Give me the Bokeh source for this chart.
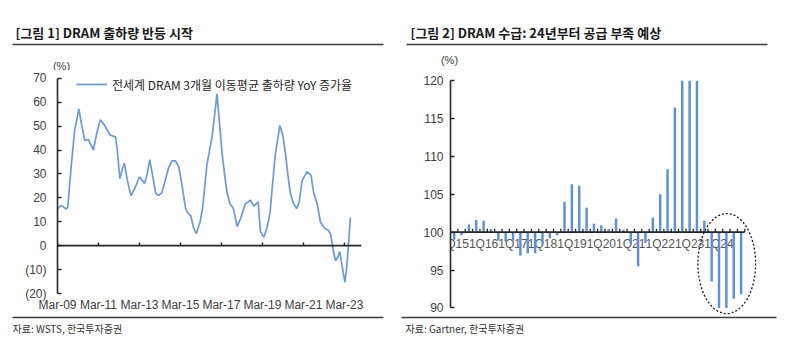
from bokeh.plotting import figure
from bokeh.models import Range1d, FixedTicker, Span, Legend, LegendItem
from bokeh.layouts import row, column
from bokeh.embed import file_html
from bokeh.resources import INLINE
from bokeh.core.properties import value

# ---------------- data: figure 1 (monthly index, 0 = Mar-09) ----------------
months_since_mar09 = [0, 2, 3, 5, 6, 8, 10, 12.5, 14, 16, 18, 19, 21, 23, 25, 27, 29, 31, 34, 35,
                      36.5, 38, 39.2, 41, 43, 45, 48, 50, 51, 52.5, 54, 55.5, 57.5, 59, 61, 63, 65,
                      67, 69, 71, 73, 75, 76.5, 78, 79.5, 81.3, 83.5, 85, 87.5, 90.5, 93.4, 95,
                      96.4, 98, 99.3, 101, 103, 105.2, 107, 110, 113, 115, 117.5, 118.8, 120.8,
                      122.7, 124.5, 125.7, 127.5, 130.2, 132, 133.5, 135, 136.4, 138, 140, 141.5,
                      143.2, 146.1, 148.5, 150, 152, 154, 156.5, 158.8, 160, 161.5, 162.8, 164,
                      165.3, 166.5, 168.3, 169.5, 171.5]
shipment_yoy = [15.4, 16.8, 16.5, 15.3, 16.0, 33.0, 48.0, 57.2, 51.0, 44.0, 44.5, 43.0, 40.0, 47.0,
                52.6, 51.0, 48.5, 46.2, 45.5, 40.0, 28.0, 32.0, 34.5, 27.0, 21.0, 23.5, 28.8, 27.0,
                26.0, 30.0, 36.0, 30.0, 22.0, 21.0, 22.0, 27.0, 32.5, 35.5, 35.5, 33.0, 25.0, 15.5,
                13.5, 12.6, 8.0, 5.0, 10.0, 16.0, 34.0, 45.4, 63.5, 50.0, 38.4, 29.0, 22.0, 17.5,
                15.5, 8.0, 11.0, 17.5, 19.0, 16.5, 18.3, 6.0, 3.5, 7.7, 14.0, 24.0, 38.0, 50.3,
                46.0, 38.4, 29.0, 21.7, 18.0, 15.5, 18.0, 27.2, 31.0, 29.3, 22.0, 17.5, 9.8, 7.3,
                6.3, 4.5, -2.0, -6.3, -5.0, -2.4, -8.0, -15.3, -8.0, 11.8]
x1_tick_months = [0, 24, 48, 72, 96, 120, 144, 168]
x1_tick_labels = ["Mar-09", "Mar-11", "Mar-13", "Mar-15", "Mar-17", "Mar-19", "Mar-21", "Mar-23"]
y1_ticks = [-20, -10, 0, 10, 20, 30, 40, 50, 60, 70]
y1_tick_labels = ["(20)", "(10)", "0", "10", "20", "30", "40", "50", "60", "70"]
series1_name = "전세계 DRAM 3개월 이동평균 출하량 YoY 증가율"

# ---------------- data: figure 2 (quarterly supply/demand, base 100) ----------------
quarters = ["1Q15", "2Q15", "3Q15", "4Q15", "1Q16", "2Q16", "3Q16", "4Q16",
            "1Q17", "2Q17", "3Q17", "4Q17", "1Q18", "2Q18", "3Q18", "4Q18",
            "1Q19", "2Q19", "3Q19", "4Q19", "1Q20", "2Q20", "3Q20", "4Q20",
            "1Q21", "2Q21", "3Q21", "4Q21", "1Q22", "2Q22", "3Q22", "4Q22",
            "1Q23", "2Q23", "3Q23", "4Q23", "1Q24", "2Q24", "3Q24", "4Q24"]
supply_demand = [99.0, 99.6, 101.0, 101.6, 101.5, 100.4, 98.9, 98.8,
                 98.9, 96.9, 97.2, 97.2, 98.4, 99.2, 99.6, 104.0,
                 106.3, 106.1, 103.2, 101.1, 100.9, 100.4, 101.8, 100.3,
                 98.4, 95.5, 98.6, 101.9, 105.0, 108.3, 116.4, 124.0,
                 126.0, 123.0, 101.5, 93.5, 90.0, 90.0, 91.2, 91.8]
y2_ticks = [90, 95, 100, 105, 110, 115, 120]

# ---------------- styles ----------------
KR = "Noto Sans CJK KR"
LAT = "Liberation Sans"
LINE_BLUE = "#6a9bd8"
BAR_BLUE = "#5b8fd6"
AXIS_C = "#262626"
TXT_C = "#404040"
RULE_C = "#3a3a3a"


def no_align(f):
    try:
        f.frame_align = False
    except Exception:
        pass
    return f


def blank_fig(w, h):
    f = figure(width=w, height=h, x_range=Range1d(0, w), y_range=Range1d(h, 0),
               x_axis_type=None, y_axis_type=None, min_border=0,
               output_backend="svg", toolbar_location=None)
    f.outline_line_color = None
    f.grid.visible = False
    return no_align(f)


def header(w, title, title_x, rule_x0, rule_x1, pct_x, pct_y):
    f = blank_fig(w, 70)
    f.text(x=[title_x], y=[32], text=[title], text_font=value(KR), text_font_size="13px",
           text_font_style="bold", text_color="#1a1a1a", text_baseline="middle", text_align="left")
    f.segment(x0=[rule_x0], y0=[44], x1=[rule_x1], y1=[44], line_color=RULE_C, line_width=1.6)
    f.text(x=[pct_x], y=[pct_y], text=["(%)"], text_font=value(LAT), text_font_size="11px",
           text_color=TXT_C, text_baseline="middle", text_align="center")
    return f


def footer(w, source, rule_x0, rule_x1, src_x):
    f = blank_fig(w, 36)
    f.segment(x0=[rule_x0], y0=[2], x1=[rule_x1], y1=[2], line_color=RULE_C, line_width=1.6)
    f.text(x=[src_x], y=[13], text=[source], text_font=value(KR), text_font_size="10px",
           text_color="#333333", text_baseline="middle", text_align="left")
    return f


def style_yaxis(p, ticks, overrides=None, standoff=10):
    ax = p.yaxis[0]
    ax.ticker = FixedTicker(ticks=ticks)
    if overrides:
        ax.major_label_overrides = overrides
    ax.axis_line_color = AXIS_C
    ax.axis_line_width = 1.6
    ax.major_tick_line_color = AXIS_C
    ax.major_tick_line_width = 1.4
    ax.major_tick_in = 4
    ax.major_tick_out = 0
    ax.minor_tick_line_color = None
    ax.major_label_standoff = standoff
    ax.major_label_text_font = LAT
    ax.major_label_text_font_size = "12px"
    ax.major_label_text_color = TXT_C


# ---------------- chart 1 ----------------
# y range extends a little above 70 so the legend sits fully inside the frame;
# the axis line itself is bounded to -20..70
p1 = figure(width=400, height=245, x_range=Range1d(0, 178), y_range=Range1d(-20, 72),
            output_backend="svg", toolbar_location=None,
            min_border_left=57, min_border_right=39, min_border_top=3, min_border_bottom=22)
no_align(p1)
p1.outline_line_color = None
p1.grid.visible = False
style_yaxis(p1, y1_ticks, {t: l for t, l in zip(y1_ticks, y1_tick_labels)}, standoff=11)
p1.yaxis[0].bounds = (y1_ticks[0], y1_ticks[-1])
xa = p1.xaxis[0]
xa.ticker = FixedTicker(ticks=x1_tick_months)
xa.major_label_overrides = {t: l for t, l in zip(x1_tick_months, x1_tick_labels)}
xa.axis_line_color = None
xa.major_tick_line_color = None
xa.major_tick_in = 0
xa.major_tick_out = 0
xa.minor_tick_line_color = None
xa.minor_tick_in = 0
xa.minor_tick_out = 0
xa.major_label_standoff = 4
xa.major_label_text_font = LAT
xa.major_label_text_font_size = "12px"
xa.major_label_text_color = TXT_C

p1.add_layout(Span(location=0, dimension="width", line_color=AXIS_C, line_width=1.6))
p1.segment(x0=x1_tick_months, y0=[0] * len(x1_tick_months), x1=x1_tick_months,
           y1=[1.3] * len(x1_tick_months), line_color=AXIS_C, line_width=1.4)
r1 = p1.line(months_since_mar09, shipment_yoy, line_color=LINE_BLUE, line_width=1.7)
leg = Legend(items=[LegendItem(label=series1_name, renderers=[r1])], location=(19, 200),
             padding=0, margin=0, border_line_color=None, background_fill_alpha=0,
             glyph_width=31, glyph_height=18, label_height=18, label_width=255,
             label_standoff=5, label_text_font=KR, label_text_font_size="12px",
             label_text_color="#1f1f1f", label_text_baseline="middle")
p1.add_layout(leg)

# ---------------- chart 2 ----------------
n_q = len(quarters)
xq = list(range(n_q))
p2 = figure(width=399, height=245, x_range=Range1d(-0.5, n_q + 1.5), y_range=Range1d(89, 120),
            x_axis_type=None, output_backend="svg", toolbar_location=None,
            min_border_left=50, min_border_right=40, min_border_top=10, min_border_bottom=0)
no_align(p2)
p2.outline_line_color = None
p2.grid.visible = False
style_yaxis(p2, y2_ticks, standoff=7)
p2.yaxis[0].bounds = (90, 120)

label_idx = [i for i, q in enumerate(quarters) if q.startswith("1Q")]
p2.text(x=label_idx, y=[100] * len(label_idx), text=[quarters[i] for i in label_idx],
        text_font=value(LAT), text_font_size="12px", text_color="#555555",
        text_align="center", text_baseline="top", y_offset=5)
p2.vbar(x=xq, bottom=100, top=supply_demand, width=0.33, fill_color=BAR_BLUE, line_color=None)
bounds = [i - 0.5 for i in range(n_q + 1)]
p2.segment(x0=[-0.5], y0=[100], x1=[n_q - 0.5], y1=[100], line_color=AXIS_C, line_width=1.6)
p2.segment(x0=bounds, y0=[100] * len(bounds), x1=bounds, y1=[100.45] * len(bounds),
           line_color=AXIS_C, line_width=1.3)
# dashed ellipse highlighting the 2024 shortage
p2.ellipse(x=[37.05], y=[95.85], width=[7.85], height=[13.2], fill_color=None,
           line_color="#1a1a1a", line_dash="2 2", line_width=1.3)

# ---------------- layout ----------------
left = column(header(400, "[그림 1] DRAM 출하량 반등 시작", 15, 12, 383, 61, 65), p1,
              footer(400, "자료: WSTS, 한국투자증권", 12, 383, 12))
right = column(header(399, "[그림 2] DRAM 수급: 24년부터 공급 부족 예상", 10, 6, 367, 49, 59), p2,
               footer(399, "자료: Gartner, 한국투자증권", 1, 376, 5))
layout = row(left, right)

open("out.html", "w").write(file_html(layout, INLINE))
